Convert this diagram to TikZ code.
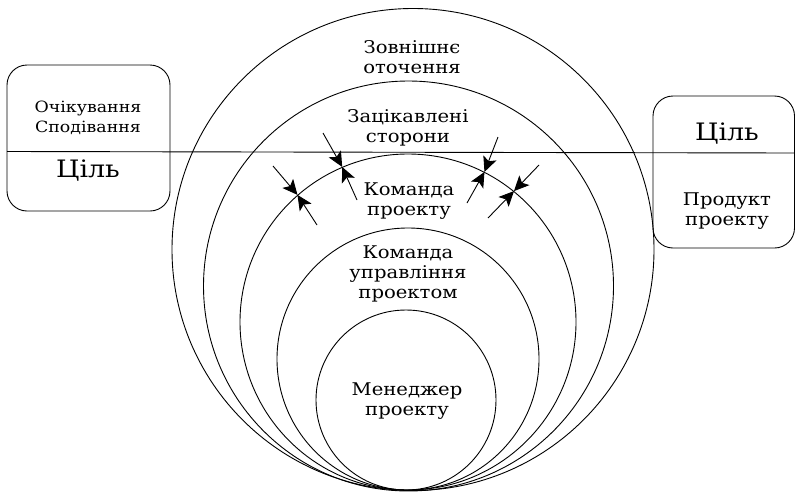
\documentclass[tikz,border=0pt]{standalone}
\usepackage{fontspec}
\setmainfont{DejaVu Serif}[FakeStretch=1.12]
\usetikzlibrary{arrows.meta,positioning}

\tikzset{
  ring/.style={circle, draw, line width=0.9pt, inner sep=0pt},
  ringtext/.style={align=center, font=\fontsize{17.5}{20}\selectfont},
  boxtext/.style={align=center, font=\fontsize{15.5}{20}\selectfont},
  goaltext/.style={font=\fontsize{24}{26}\selectfont},
  sidebox/.style={draw, line width=0.9pt, rounded corners=20pt},
  pin/.style={-{Stealth[length=15pt,width=14pt,inset=3.5pt]}, line width=0.9pt},
}

\begin{document}
\begin{tikzpicture}[x=1pt,y=-1pt]
    \useasboundingbox (0,0) rectangle (795,493);

    % nested circles, all touching at the bottom
    \node[ring, minimum size=482pt] (outer) at (413,249.5) {};
    \node[ring, minimum size=410pt] (stake) at (408.5,286) {};
    \node[ring, minimum size=336pt] (team) at (408,322) {};
    \node[ring, minimum size=262pt] (mgmt) at (408,359) {};
    \node[ring, minimum size=180pt] (pm) at (406,400) {};

    \node[ringtext] (envtext) at (412,57) {Зовнішнє\\оточення};
    \node[ringtext] (staketext) at (408,128) {Зацікавлені\\сторони};
    \node[ringtext] (teamtext) at (409,201) {Команда\\проекту};
    \node[ringtext] (mgmttext) at (408,274) {Команда\\управління\\проектом};
    \node[ringtext] (pmtext) at (407,401) {Менеджер\\проекту};

    % side boxes
    \node[sidebox, minimum width=163pt, minimum height=146pt] (leftbox) at (88.5,138) {};
    \node[sidebox, minimum width=141.5pt, minimum height=152pt] (rightbox) at (723.75,172) {};

    \node[boxtext] (expect) at (88,118) {Очікування\\Сподівання};
    \node[goaltext] (goalL) at (88,171) {Ціль};
    \node[goaltext] (goalR) at (727,134) {Ціль};
    \node[ringtext] (product) at (727,211) {Продукт\\проекту};

    % the cut line
    \coordinate (cutL) at (7,151.5);
    \coordinate (cutR) at (794.5,153);
    \draw[line width=0.9pt] (cutL) -- (cutR);

    % pressure on the team circle
    \foreach \n/\ang/\ox/\oy/\ix/\iy in {a/113.8/323/133/357/200, b/131.9/273/166/317/225,
                                         c/63.7/498/137/467/203, d/51.4/539/165/488/218} {
        \coordinate (out\n) at (\ox,\oy);
        \coordinate (in\n) at (\ix,\iy);
        \draw[pin] (out\n) -- (team.\ang);
        \draw[pin] (in\n) -- (team.\ang);
    }
\end{tikzpicture}
\end{document}
